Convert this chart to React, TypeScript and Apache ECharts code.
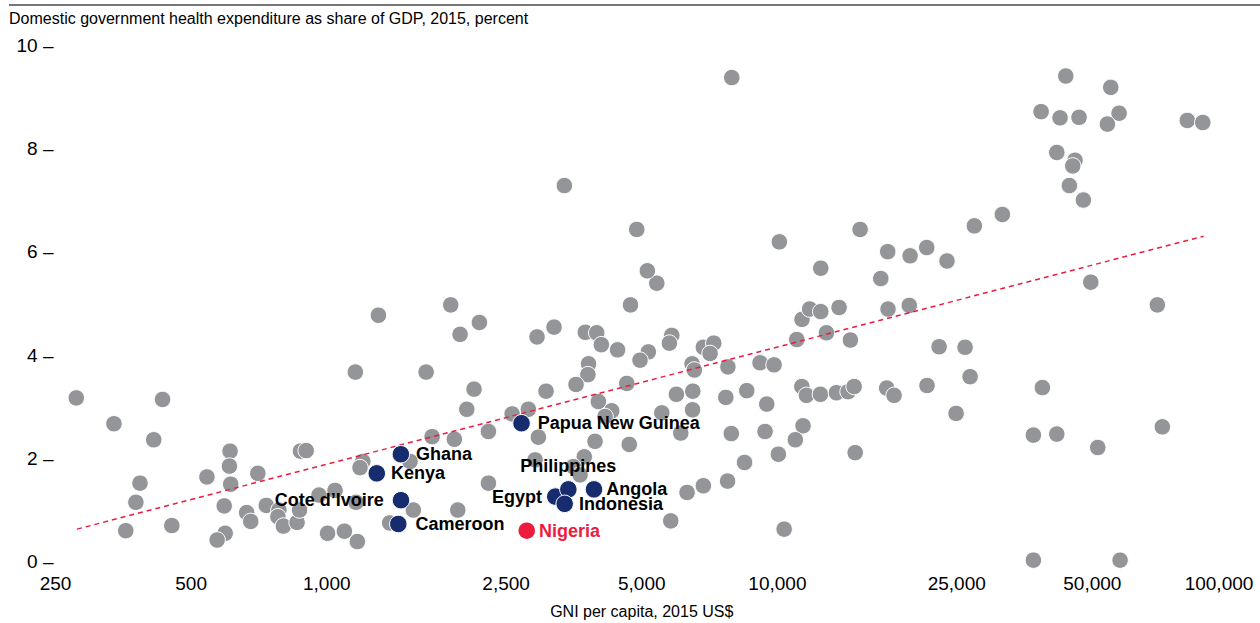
import React, { useEffect, useRef } from "react";
import * as echarts from "echarts";

const FONT = "'Liberation Sans', Arial, Helvetica, sans-serif";

const TITLE = "Domestic government health expenditure as share of GDP, 2015, percent";
const X_NAME = "GNI per capita, 2015 US$";

// Tick labels (GNI per capita, US$) on the logarithmic x axis
const X_TICKS = [250, 500, 1000, 2500, 5000, 10000, 25000, 50000, 100000];
const Y_TICKS_STEP = 2;

// All other countries: GNI per capita (US$) and government health spending (% of GDP)
const OTHER_GNI = [
  278, 337, 432, 413, 385, 377, 358, 453, 542, 610, 608, 612, 592, 703, 664, 678, 595, 571,
  734, 783, 779, 801, 859, 870, 874, 900, 961, 1043, 1004, 1094, 1169, 1161, 1202, 1185,
  1530, 1556, 1379, 1713, 1919, 1953, 1302, 1884, 2181, 1976, 1157, 1661, 2122, 2045, 2284,
  2284, 2578, 2801, 2928, 3194, 3066, 2948, 2899, 3367, 3747, 3972, 4067, 4419, 4721, 4874,
  3810, 3797, 3574, 4631, 4006, 4289, 4146, 3938, 4691, 3728, 3525, 3648, 5171, 4956, 5829,
  5758, 5400, 5145, 6849, 7224, 7089, 6466, 6542, 7766, 5968, 6490, 6482, 5540, 7683, 6104,
  7901, 8551, 9471, 9151, 9831, 11040, 11340, 11790, 12480, 13706, 12850, 14520, 17600,
  19620, 22850, 26090, 11330, 11600, 12460, 13520, 14350, 14800, 17480, 18150, 21480, 24920,
  26770, 9389, 11400, 10960, 10050, 8455, 7753, 6849, 6303, 14880, 5799, 10350, 7921, 10100,
  12480, 15260, 17570, 19700, 21450, 23790, 16960, 27360, 31570, 43650, 54930, 38480, 42390,
  46710, 57320, 53990, 81230, 87900, 41690, 45760, 45230, 44460, 47750, 49600, 69690, 38730,
  36990, 41690, 51400, 71490, 36990, 57610,
];
const OTHER_SHARE = [
  3.17, 2.67, 3.14, 2.36, 1.52, 1.15, 0.6, 0.7, 1.64, 2.14, 1.85, 1.5, 1.08, 1.71, 0.95, 0.78,
  0.55, 0.42, 1.09, 1.0, 0.87, 0.69, 0.76, 1.0, 2.14, 2.15, 1.29, 1.38, 0.55, 0.59, 0.39, 1.15,
  1.94, 1.82, 1.94, 1.0, 0.75, 2.42, 2.37, 1.0, 4.77, 4.97, 4.63, 4.4, 3.67, 3.67, 3.34, 2.95,
  2.52, 1.52, 2.86, 2.95, 4.35, 4.54, 3.3, 2.41, 1.97, 7.28, 4.44, 4.43, 4.2, 4.1, 4.97, 6.43,
  3.83, 3.62, 3.43, 3.45, 3.1, 2.92, 2.81, 2.33, 2.27, 2.03, 1.84, 1.68, 4.06, 3.9, 4.38, 4.23,
  5.39, 5.63, 4.15, 4.23, 4.03, 3.83, 3.71, 3.77, 3.24, 3.3, 2.94, 2.88, 3.18, 2.49, 2.48,
  3.31, 3.05, 3.85, 3.81, 4.3, 4.69, 4.89, 4.84, 4.92, 4.43, 4.29, 4.89, 4.96, 4.16, 4.15,
  3.39, 3.22, 3.24, 3.27, 3.29, 3.39, 3.36, 3.22, 3.41, 2.87, 3.58, 2.52, 2.63, 2.36, 2.08,
  1.92, 1.56, 1.47, 1.34, 2.11, 0.79, 0.63, 9.37, 6.19, 5.68, 6.43, 6.0, 5.92, 6.08, 5.82,
  5.48, 6.5, 6.72, 9.4, 9.18, 8.71, 8.59, 8.6, 8.68, 8.47, 8.54, 8.5, 7.92, 7.77, 7.66, 7.28,
  7.0, 5.41, 4.97, 3.37, 2.45, 2.47, 2.21, 2.61, 0.03, 0.03,
];

// Named comparison countries
const PEER_NAMES = [
  "Ghana", "Kenya", "Cote d\u2019Ivoire", "Cameroon", "Papua New Guinea",
  "Egypt", "Philippines", "Indonesia", "Angola",
];
const PEER_GNI = [1460, 1291, 1461, 1441, 2705, 3214, 3436, 3372, 3917];
const PEER_SHARE = [2.08, 1.71, 1.19, 0.73, 2.68, 1.26, 1.4, 1.12, 1.4];

const FOCUS_NAME = "Nigeria";
const FOCUS_GNI = 2778;
const FOCUS_SHARE = 0.6;

// Fitted trend line end points
const TREND_GNI = [279, 88260];
const TREND_SHARE = [0.63, 6.3];

const GREY = "#939598";
const NAVY = "#172c6f";
const RED = "#ec1c3e";

// Where each country name sits relative to its dot
const PEER_LABEL_PLACEMENT: Record<string, { position: string; distance: number }> = {
  Ghana: { position: "right", distance: 6 },
  Kenya: { position: "right", distance: 5 },
  "Cote d\u2019Ivoire": { position: "left", distance: 8 },
  Cameroon: { position: "right", distance: 8 },
  "Papua New Guinea": { position: "right", distance: 7 },
  Egypt: { position: "left", distance: 4 },
  Philippines: { position: "top", distance: 5 },
  Indonesia: { position: "right", distance: 5 },
  Angola: { position: "right", distance: 3 },
};

const lg = (v: number) => Math.log10(v);

function withThousands(n: number): string {
  return String(n).replace(/\B(?=(\d{3})+(?!\d))/g, ",");
}

export default function App() {
  const ref = useRef<HTMLDivElement>(null);

  useEffect(() => {
    if (!ref.current) return;
    const chart = echarts.init(ref.current, null, { renderer: "svg" });

    const others = OTHER_GNI.map((g, i) => [lg(g), OTHER_SHARE[i]]);
    const peers = PEER_NAMES.map((name, i) => {
      const p = PEER_LABEL_PLACEMENT[name];
      return {
        name,
        value: [lg(PEER_GNI[i]), PEER_SHARE[i]],
        label: { position: p.position, distance: p.distance },
      };
    });
    const trend = TREND_GNI.map((g, i) => [lg(g), TREND_SHARE[i]]);
    const xMax = lg(X_TICKS[X_TICKS.length - 1]);

    chart.setOption({
      animation: false,
      textStyle: { fontFamily: FONT },
      title: {
        text: TITLE,
        left: 9,
        top: 10,
        padding: 0,
        textStyle: { fontFamily: FONT, fontSize: 16, fontWeight: "normal", color: "#000" },
      },
      graphic: [
        {
          type: "line",
          shape: { x1: 9, y1: 5, x2: 1260, y2: 5 },
          style: { stroke: "#4a4a4a", lineWidth: 1.5 },
        },
      ],
      grid: { left: 55.5, right: 32, top: 45, bottom: 61.3, outerBoundsMode: "none", containLabel: false },
      xAxis: {
        type: "value",
        min: lg(X_TICKS[0]),
        max: xMax,
        axisLine: { show: false },
        axisTick: { show: false },
        splitLine: { show: false },
        axisLabel: {
          customValues: X_TICKS.map(lg),
          // the last label is nudged inwards so it stays inside the canvas
          formatter: (v: number) => {
            const text = withThousands(Math.round(Math.pow(10, v)));
            return Math.abs(v - xMax) < 1e-9 ? `{edge|${text}}` : text;
          },
          rich: {
            edge: { fontSize: 19, color: "#000", fontFamily: FONT, padding: [0, 18, 0, 0] },
          },
          fontSize: 19,
          color: "#000",
          margin: 12,
          fontFamily: FONT,
        },
        name: X_NAME,
        nameLocation: "middle",
        nameGap: 42,
        nameTextStyle: { fontSize: 16, color: "#000", fontFamily: FONT },
      },
      yAxis: {
        type: "value",
        min: 0,
        max: 10,
        interval: Y_TICKS_STEP,
        axisLine: { show: false },
        axisTick: { show: false },
        splitLine: { show: false },
        axisLabel: {
          formatter: (v: number) => `${v} \u2013`,
          fontSize: 19,
          color: "#000",
          margin: 2,
          fontFamily: FONT,
        },
      },
      series: [
        {
          type: "scatter",
          data: others,
          symbolSize: 16.5,
          itemStyle: { color: GREY, borderColor: "#fff", borderWidth: 1, opacity: 1 },
          z: 2,
        },
        {
          type: "line",
          data: trend,
          symbol: "none",
          lineStyle: { color: RED, width: 1.5, type: [5, 4] },
          z: 3,
        },
        {
          type: "scatter",
          data: peers,
          symbolSize: 17.5,
          itemStyle: { color: NAVY, borderColor: "#fff", borderWidth: 1, opacity: 1 },
          label: {
            show: true,
            formatter: "{b}",
            fontSize: 18,
            fontWeight: "bold",
            color: "#000",
            fontFamily: FONT,
          },
          z: 4,
        },
        {
          type: "scatter",
          data: [{ name: FOCUS_NAME, value: [lg(FOCUS_GNI), FOCUS_SHARE] }],
          symbolSize: 16.5,
          itemStyle: { color: RED, opacity: 1 },
          label: {
            show: true,
            formatter: "{b}",
            position: "right",
            distance: 4,
            fontSize: 18,
            fontWeight: "bold",
            color: RED,
            fontFamily: FONT,
          },
          z: 4,
        },
      ],
    });

    return () => chart.dispose();
  }, []);

  return (
    <div
      ref={ref}
      style={{ position: "absolute", left: 0, top: 0, width: 1260, height: 623, background: "#fff" }}
    />
  );
}
